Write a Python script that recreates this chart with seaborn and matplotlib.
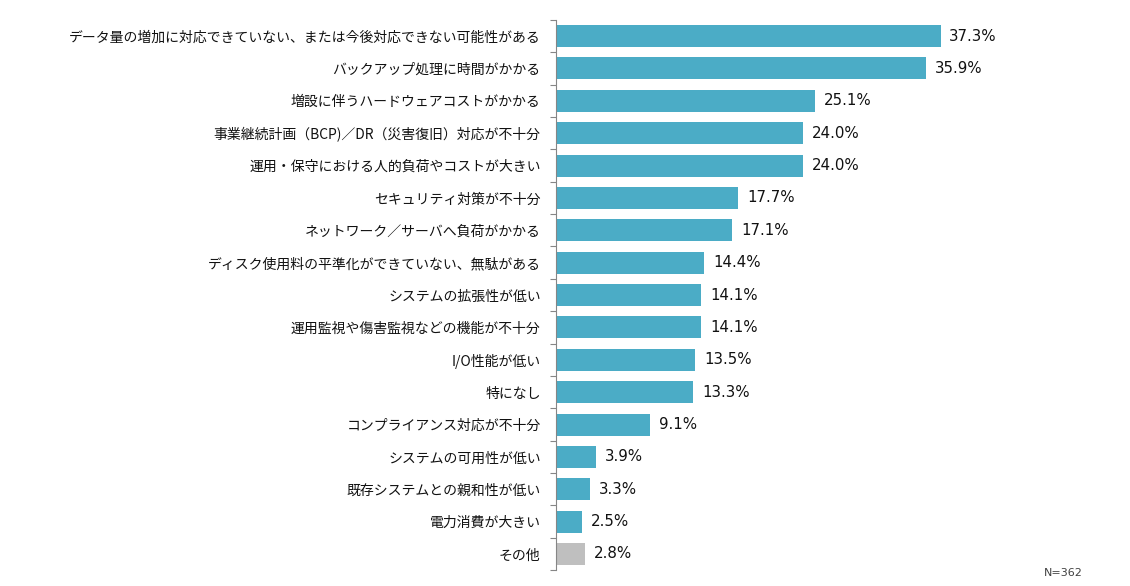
import pandas as pd
import numpy as np
import matplotlib.pyplot as plt
import seaborn as sns

labels = [
    "データ量の増加に対応できていない、または今後対応できない可能性がある",
    "バックアップ処理に時間がかかる",
    "増設に伴うハードウェアコストがかかる",
    "事業継続計画（BCP)／DR（災害復旧）対応が不十分",
    "運用・保守における人的負荷やコストが大きい",
    "セキュリティ対策が不十分",
    "ネットワーク／サーバへ負荷がかかる",
    "ディスク使用料の平準化ができていない、無駄がある",
    "システムの拡張性が低い",
    "運用監視や傷害監視などの機能が不十分",
    "I/O性能が低い",
    "特になし",
    "コンプライアンス対応が不十分",
    "システムの可用性が低い",
    "既存システムとの親和性が低い",
    "電力消費が大きい",
    "その他",
]
values = [37.3, 35.9, 25.1, 24.0, 24.0, 17.7, 17.1, 14.4, 14.1, 14.1,
          13.5, 13.3, 9.1, 3.9, 3.3, 2.5, 2.8]

colors = ["#4BACC6"] * (len(labels) - 1) + ["#BFBFBF"]

df = pd.DataFrame({"label": labels, "value": values})

sns.set_style("white")
plt.rcParams['font.family'] = ['Noto Sans CJK JP', 'DejaVu Sans']

fig = plt.figure(figsize=(11.3, 5.86), dpi=100)
ax = fig.add_axes([0.492, 0.027, 0.428, 0.939])

sns.barplot(data=df, y="label", x="value", hue="label", palette=colors,
            legend=False, orient="h", width=0.68, ax=ax, saturation=1,
            linewidth=0)

# value labels
for i, v in enumerate(values):
    ax.text(v + 0.85, i, f"{v:.1f}%", va="center", ha="left",
            fontsize=10.8, family="DejaVu Sans", color="#111111")

ax.set_xlim(0, 46.9)
ax.set_ylim(len(labels) - 0.5, -0.5)
ax.set_xlabel("")
ax.set_ylabel("")
ax.set_xticks([])

for side in ["top", "right", "bottom"]:
    ax.spines[side].set_visible(False)
ax.spines["left"].set_color("#868686")
ax.spines["left"].set_linewidth(0.8)

# category labels, ticks between categories
ax.set_yticks(range(len(labels)))
ax.set_yticklabels(labels, fontsize=10, color="#111111")
ax.tick_params(axis="y", which="major", length=0, pad=11)
ax.set_yticks(np.arange(-0.5, len(labels), 1), minor=True)
ax.tick_params(axis="y", which="minor", length=4, color="#868686", width=0.8,
               direction="out", left=True)

fig.text(0.958, 0.023, "N=362", ha="right", va="center", fontsize=8,
         family="DejaVu Sans", color="#404040")

fig.savefig("out.png", dpi=100)
